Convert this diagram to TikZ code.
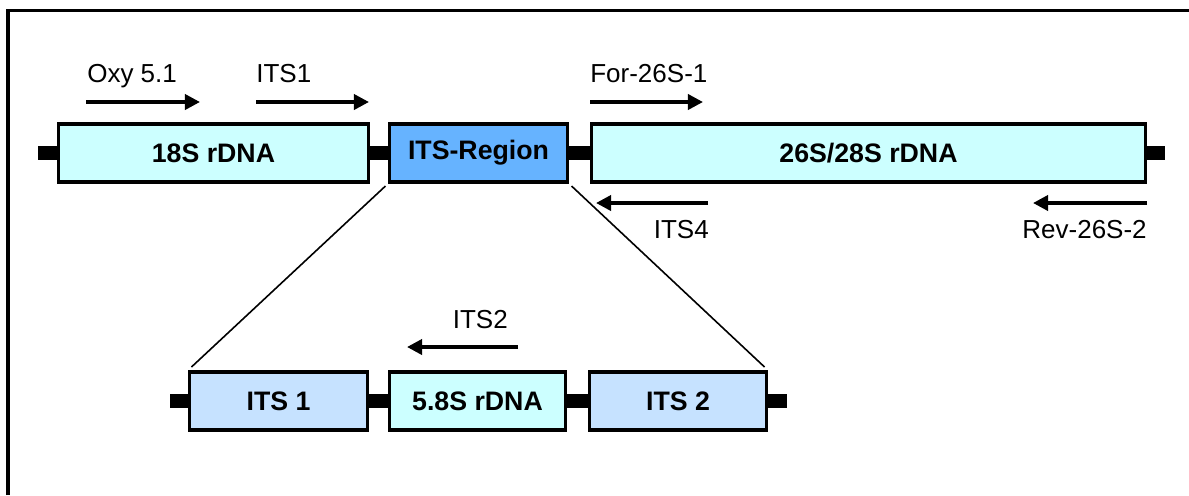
\documentclass[tikz,border=0pt]{standalone}
\usepackage{fontspec}
\setmainfont{Liberation Sans}
\usepackage{tikz}
\usetikzlibrary{arrows.meta,positioning,calc}
\usepackage{xcolor}
\definecolor{rcyan}{RGB}{204,255,255}
\definecolor{rblue}{RGB}{102,179,255}
\definecolor{rlightblue}{RGB}{198,226,255}
\tikzstyle{gene} = [rectangle, draw=black, line width=0.08cm, inner sep=0pt, outer sep=0pt, minimum height=1.45cm, font=\fontsize{19}{22}\selectfont\bfseries]
\tikzstyle{stub} = [line width=0.33cm, black]
\tikzstyle{primer} = [line width=0.09cm, -{Triangle[length=0.38cm,width=0.38cm]}]
\tikzstyle{plabel} = [inner sep=0pt, font=\fontsize{18.5}{22}\selectfont]
\tikzstyle{zoomline} = [line width=0.04cm]

\begin{document}
\begin{tikzpicture}[x=0.025cm, y=-0.025cm]
\useasboundingbox (0,0) rectangle (1189,495);
\draw[line width=0.075cm] (8,495) -- (8,10) -- (1189,10);

% rDNA cluster
\node[gene, fill=rcyan, minimum width=7.75cm] (s18) at (213.5,153) {18S rDNA};
\node[gene, fill=rblue, minimum width=4.45cm] (itsr) at (478.5,153) {ITS-Region};
\node[gene, fill=rcyan, minimum width=13.85cm] (s26) at (868.5,153) {26S/28S rDNA};
\coordinate (lend) at (38,153);
\coordinate (rend) at (1165,153);
\draw[stub] (lend) -- (s18.west);
\draw[stub] (s18.east) -- (itsr.west);
\draw[stub] (itsr.east) -- (s26.west);
\draw[stub] (s26.east) -- (rend);

% forward primers
\coordinate (oxya) at (86,102);   \coordinate (oxyb) at (200,102);
\coordinate (its1a) at (256,102); \coordinate (its1b) at (369,102);
\coordinate (fora) at (590,102);  \coordinate (forb) at (703,102);
\draw[primer] (oxya) -- (oxyb);
\draw[primer] (its1a) -- (its1b);
\draw[primer] (fora) -- (forb);
\node[plabel, anchor=base west] (oxy) at (87,82) {Oxy 5.1};
\node[plabel, anchor=base west] (its1l) at (256,82) {ITS1};
\node[plabel, anchor=base west] (forl) at (590,82) {For-26S-1};

% reverse primers
\coordinate (its4a) at (708,203); \coordinate (its4b) at (596,203);
\coordinate (reva) at (1147,203); \coordinate (revb) at (1033,203);
\draw[primer] (its4a) -- (its4b);
\draw[primer] (reva) -- (revb);
\node[plabel, anchor=base east] (its4l) at (709,238) {ITS4};
\node[plabel, anchor=base east] (revl) at (1147,238) {Rev-26S-2};

% ITS region in detail
\node[gene, fill=rlightblue, minimum width=4.45cm] (its1) at (278.5,401) {ITS 1};
\node[gene, fill=rcyan, minimum width=4.4cm] (s58) at (477.5,401) {5.8S rDNA};
\node[gene, fill=rlightblue, minimum width=4.425cm] (its2) at (678,401) {ITS 2};
\coordinate (lend2) at (170,401);
\coordinate (rend2) at (787,401);
\draw[stub] (lend2) -- (its1.west);
\draw[stub] (its1.east) -- (s58.west);
\draw[stub] (s58.east) -- (its2.west);
\draw[stub] (its2.east) -- (rend2);

\coordinate (its2a) at (518,347); \coordinate (its2b) at (407,347);
\draw[primer] (its2a) -- (its2b);
\node[plabel, anchor=base east] (its2l) at (508,328) {ITS2};

% zoom lines
\draw[zoomline] ($(itsr.south west)+(-4,4)$) -- ($(its1.north west)+(2,-5)$);
\draw[zoomline] ($(itsr.south east)+(4,4)$) -- ($(its2.north east)+(-2,-5)$);
\end{tikzpicture}
\end{document}
